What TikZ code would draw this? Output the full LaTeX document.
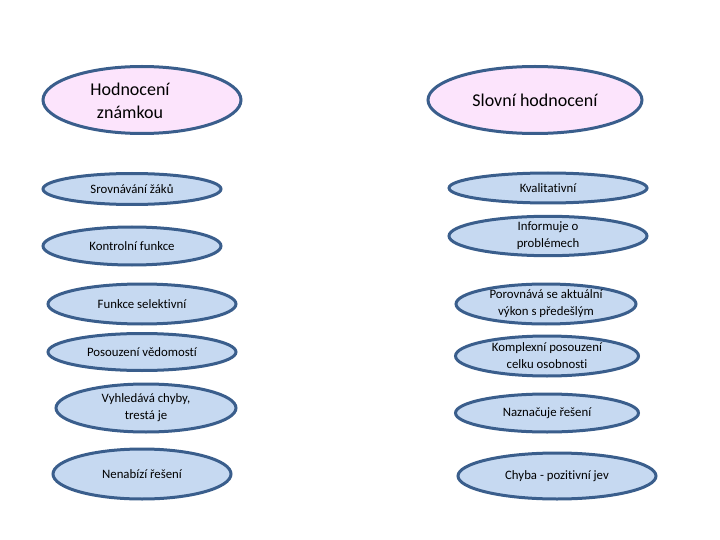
\documentclass[tikz,border=0pt]{standalone}
\usepackage{fontspec}
\setmainfont{Carlito}[Ligatures={NoCommon}]
\usetikzlibrary{shapes.geometric}
\definecolor{edge}{RGB}{58,94,140}
\definecolor{blue}{RGB}{198,217,241}
\definecolor{pink}{RGB}{252,228,252}
\tikzset{
  oval/.style={ellipse, draw=edge, line width=3pt, fill=blue, inner sep=0pt, align=center,
    font=\fontsize{12.8}{17}\selectfont},
  bigoval/.style={oval, fill=pink, font=\fontsize{18}{22}\selectfont},
}
\begin{document}
\begin{tikzpicture}[x=1pt,y=-1pt]
\useasboundingbox (0,0) rectangle (720,540);
% headers
\node[bigoval, minimum width=198, minimum height=67] (h) at (142,100) {};
\node[align=center, font=\fontsize{18}{23}\selectfont] (ht) at (130,101) {Hodnocení\\známkou};
\node[bigoval, minimum width=214, minimum height=67] (s) at (535,100) {Slovní hodnocení};
% left column
\node[oval, minimum width=178, minimum height=31] (l1) at (132,189) {Srovnávání žáků};
\node[oval, minimum width=178, minimum height=38] (l2) at (132,246) {Kontrolní funkce};
\node[oval, minimum width=188, minimum height=40] (l3) at (142,304) {Funkce selektivní};
\node[oval, minimum width=188, minimum height=37] (l4) at (142,352) {Posouzení vědomostí};
\node[oval, minimum width=180, minimum height=48] (l5) at (146,408) {Vyhledává chyby,\\trestá je};
\node[oval, minimum width=178, minimum height=50] (l6) at (142,474) {Nenabízí řešení};
% right column
\node[oval, minimum width=198, minimum height=30] (r1) at (548,188) {Kvalitativní};
\node[oval, minimum width=198, minimum height=37] (r2) at (548,236) {Informuje o\\problémech};
\node[oval, minimum width=180, minimum height=40] (r3) at (546,304) {Porovnává se aktuální\\výkon s předešlým};
\node[oval, minimum width=183, minimum height=40] (r4) at (547,356) {Komplexní posouzení\\celku osobnosti};
\node[oval, minimum width=183, minimum height=38] (r5) at (547,413) {Naznačuje řešení};
\node[oval, minimum width=198, minimum height=46] (r6) at (557,476) {Chyba - pozitivní jev};
\end{tikzpicture}
\end{document}
